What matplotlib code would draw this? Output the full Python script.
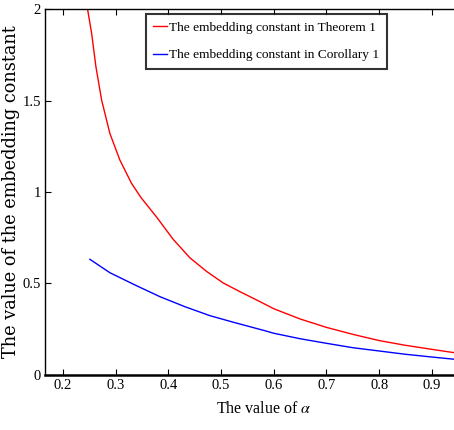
import matplotlib
matplotlib.use('Agg')
import matplotlib.pyplot as plt

# values
alpha_thm = [0.247, 0.2545, 0.2626, 0.2734, 0.289, 0.308, 0.330, 0.348, 0.378,
             0.409, 0.441, 0.473, 0.504, 0.536, 0.5675, 0.6, 0.65, 0.7, 0.75,
             0.8, 0.85, 0.9, 0.942]
const_thm = [1.995, 1.867, 1.685, 1.503, 1.321, 1.175, 1.048, 0.97, 0.862,
             0.742, 0.640, 0.565, 0.503, 0.455, 0.41, 0.362, 0.306, 0.26, 0.222,
             0.188, 0.162, 0.14, 0.122]

alpha_cor = [0.2512, 0.289, 0.3366, 0.384, 0.4315, 0.479, 0.526, 0.583, 0.6,
             0.65, 0.7, 0.75, 0.8, 0.85, 0.9, 0.942]
const_cor = [0.632, 0.559, 0.492, 0.428, 0.373, 0.324, 0.286, 0.242, 0.228,
             0.198, 0.173, 0.149, 0.131, 0.113, 0.098, 0.086]

xticks = [0.2, 0.3, 0.4, 0.5, 0.6, 0.7, 0.8, 0.9]
yticks = [0, 0.5, 1, 1.5, 2]
yticklabels = ['0', '0.5', '1', '1.5', '2']

plt.rcParams['font.family'] = ['Liberation Serif', 'DejaVu Serif']
plt.rcParams['mathtext.fontset'] = 'stix'

fig = plt.figure(figsize=(4.54, 4.30), dpi=100)
ax = fig.add_axes([0.0991, 0.128, 0.9009, 0.851])

ax.plot(alpha_thm, const_thm, color='red', lw=1.0,
        label='The embedding constant in Theorem 1')
ax.plot(alpha_cor, const_cor, color='blue', lw=1.0,
        label='The embedding constant in Corollary 1')

ax.set_xlim(0.166, 0.942)
ax.set_ylim(0, 2)
ax.set_xticks(xticks)
ax.set_xticklabels([str(t) for t in xticks])
ax.set_yticks(yticks)
ax.set_yticklabels(yticklabels)
ax.tick_params(direction='in', top=True, right=False, length=4, width=0.8,
               labelsize=10.5, pad=3)

ax.spines['right'].set_visible(False)
ax.spines['bottom'].set_linewidth(1.8)
ax.spines['left'].set_linewidth(1.0)
ax.spines['top'].set_linewidth(1.0)

ax.set_xlabel(r'The value of $\alpha$', fontsize=11.5)
ax.xaxis.set_label_coords(0.535, -0.07)
ax.set_ylabel('The value of the embedding constant', fontsize=12.8,
              family='DejaVu Serif')
ax.yaxis.set_label_coords(-0.062, 0.5)

leg = ax.legend(loc='upper left', bbox_to_anchor=(0.247, 0.986), fontsize=9.6,
                frameon=True, fancybox=False, handlelength=1.0,
                handletextpad=0.2, borderpad=0.55, labelspacing=1.15,
                borderaxespad=0)
leg.get_frame().set_edgecolor('black')
leg.get_frame().set_linewidth(1.5)

fig.savefig('out.png', dpi=100)
